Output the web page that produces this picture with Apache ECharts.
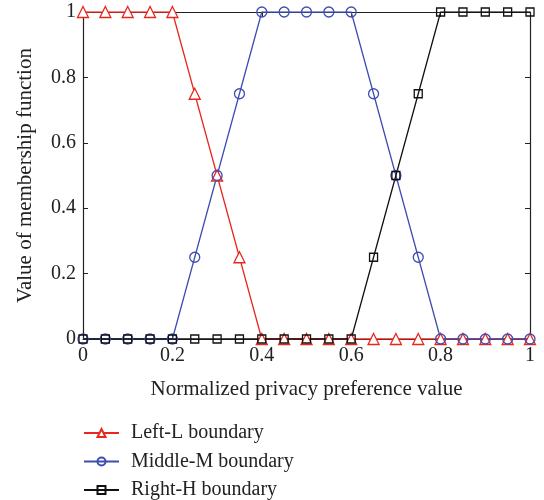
<!DOCTYPE html>
<html>
<head>
<meta charset="utf-8">
<script src="https://cdn.jsdelivr.net/npm/echarts@6/dist/echarts.min.js"></script>
<style>
  html, body { margin: 0; padding: 0; background: #fff; }
  #chart { width: 544px; height: 500px; }
</style>
</head>
<body>
<div id="chart"></div>
<script>
// x positions (normalized privacy preference value)
const xValues = [0, 0.05, 0.1, 0.15, 0.2, 0.25, 0.3, 0.35, 0.4, 0.45, 0.5,
  0.55, 0.6, 0.65, 0.7, 0.75, 0.8, 0.85, 0.9, 0.95, 1];
const leftL = [1, 1, 1, 1, 1, 0.75, 0.5, 0.25, 0, 0, 0, 0, 0, 0, 0, 0, 0, 0, 0, 0, 0];
const middleM = [0, 0, 0, 0, 0, 0.25, 0.5, 0.75, 1, 1, 1, 1, 1, 0.75, 0.5, 0.25, 0, 0, 0, 0, 0];
const rightH = [0, 0, 0, 0, 0, 0, 0, 0, 0, 0, 0, 0, 0, 0.25, 0.5, 0.75, 1, 1, 1, 1, 1];
const seriesNames = ['Left-L boundary', 'Middle-M boundary', 'Right-H boundary'];

const font = "'Liberation Serif', 'DejaVu Serif', serif";
const fs = 20;

function pairs(ys) {
  return xValues.map(function (x, i) { return [x, ys[i]]; });
}
function tickFmt(v) {
  return v === 0 || v === 1 ? String(v) : v.toFixed(1);
}

const chart = echarts.init(document.getElementById('chart'));

const axisCommon = {
  type: 'value',
  min: 0,
  max: 1,
  interval: 0.2,
  axisLine: { show: true, onZero: false, lineStyle: { color: '#222', width: 1.2 } },
  axisTick: { show: true, inside: true, length: 5, lineStyle: { color: '#222' } },
  splitLine: { show: false }
};

const option = {
  animation: false,
  grid: { left: 83, right: 14, top: 12, bottom: 161 },
  textStyle: { fontFamily: font },
  xAxis: [
    Object.assign({}, axisCommon, {
      position: 'bottom',
      name: 'Normalized privacy preference value',
      nameLocation: 'middle',
      nameGap: 40,
      nameTextStyle: { fontFamily: font, fontSize: 21, color: '#222' },
      axisLabel: { fontFamily: font, fontSize: fs, color: '#222', margin: 7, formatter: tickFmt }
    }),
    Object.assign({}, axisCommon, { position: 'top', axisLabel: { show: false } })
  ],
  yAxis: [
    Object.assign({}, axisCommon, {
      position: 'left',
      name: 'Value of membership function',
      nameLocation: 'middle',
      nameGap: 47,
      nameTextStyle: { fontFamily: font, fontSize: 21, color: '#222' },
      axisLabel: { fontFamily: font, fontSize: fs, color: '#222', margin: 7, formatter: tickFmt }
    }),
    Object.assign({}, axisCommon, { position: 'right', axisLabel: { show: false } })
  ],
  legend: {
    orient: 'vertical',
    left: 83,
    top: 423,
    padding: 0,
    itemWidth: 35,
    itemHeight: 10,
    itemGap: 8.5,
    textStyle: { fontFamily: font, fontSize: fs, lineHeight: 20, color: '#222', padding: [0, 0, 0, 7] },
    data: seriesNames
  },
  series: [
    {
      name: seriesNames[0],
      type: 'line',
      data: pairs(leftL),
      symbol: 'triangle',
      symbolSize: 11,
      showAllSymbol: true,
      lineStyle: { color: '#e8281e', width: 1.3 },
      itemStyle: { color: '#fff', borderColor: '#e8281e', borderWidth: 1.3 }
    },
    {
      name: seriesNames[1],
      type: 'line',
      data: pairs(middleM),
      symbol: 'circle',
      symbolSize: 10,
      showAllSymbol: true,
      lineStyle: { color: '#3f4db0', width: 1.3 },
      itemStyle: { color: 'rgba(0,0,0,0)', borderColor: '#3f4db0', borderWidth: 1.3 }
    },
    {
      name: seriesNames[2],
      type: 'line',
      data: pairs(rightH),
      symbol: 'rect',
      symbolSize: 8,
      showAllSymbol: true,
      lineStyle: { color: '#111', width: 1.3 },
      itemStyle: { color: 'rgba(0,0,0,0)', borderColor: '#111', borderWidth: 1.3 }
    }
  ]
};

chart.setOption(option);
</script>
</body>
</html>
